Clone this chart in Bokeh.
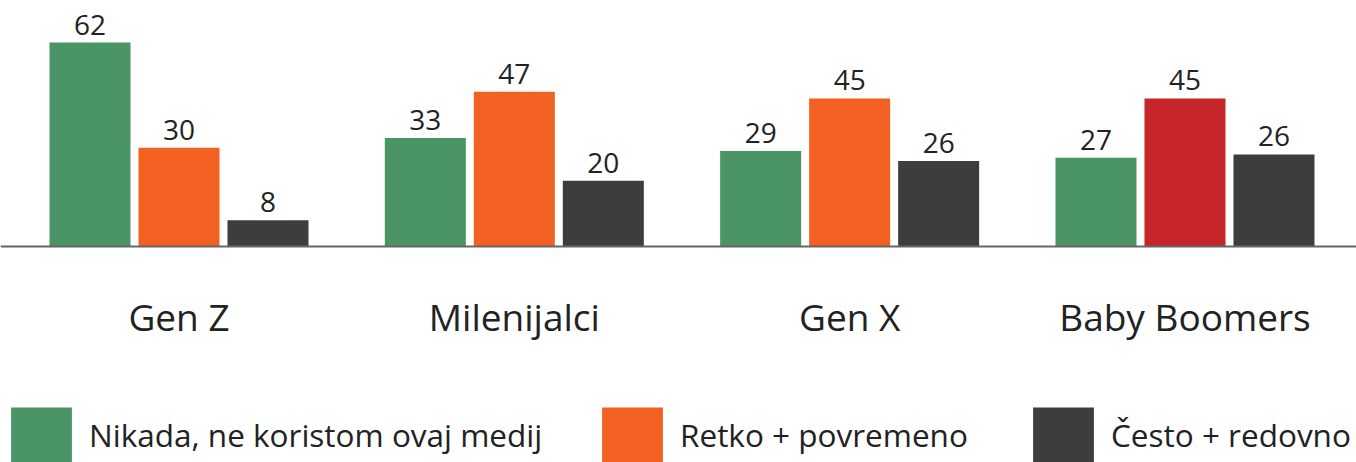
from bokeh.plotting import figure
from bokeh.models import ColumnDataSource, Range1d, Legend, LegendItem, Span
from bokeh.transform import dodge
from bokeh.core.properties import value
from bokeh.embed import file_html
from bokeh.resources import INLINE

# ---- data ----
groups = ["Gen Z", "Milenijalci", "Gen X", "Baby Boomers"]
series_names = ["Nikada, ne koristom ovaj medij", "Retko + povremeno", "Često + redovno"]
nikada = [62, 33, 29, 27]
retko = [30, 47, 45, 45]
cesto = [8, 20, 26, 28]                 # bar heights as drawn in the reference
cesto_labels = ["8", "20", "26", "26"]  # values printed above the bars

# ---- style ----
GREEN = "#4A9466"
ORANGE = "#F26122"
RED = "#C6262A"
DARK = "#3D3D3D"
TEXT = "#222222"
FONT = "Open Sans"
retko_colors = [ORANGE, ORANGE, ORANGE, RED]

idx = list(range(len(groups)))
src = ColumnDataSource(dict(
    x=idx,
    base=[0] * len(groups),
    group=groups,
    nikada=nikada, retko=retko, cesto=cesto,
    nikada_lbl=[str(v) for v in nikada],
    retko_lbl=[str(v) for v in retko],
    cesto_lbl=cesto_labels,
    retko_color=retko_colors,
))

p = figure(width=1356, height=462, output_backend="svg", toolbar_location=None,
           x_range=Range1d(-0.5323, 3.5115), y_range=Range1d(-65.65, 74.77),
           x_axis_location=None, y_axis_location=None,
           min_border_left=0, min_border_right=0, min_border_top=0,
           min_border_bottom=0)

OFF = 0.2654
W = 0.2416
specs = [("nikada", -OFF, GREEN), ("retko", 0.0, "retko_color"), ("cesto", OFF, DARK)]
renderers = []
for col, off, color in specs:
    r = p.vbar(x=dodge("x", off, range=p.x_range), top=col, bottom=0, width=W,
               source=src, fill_color=color, line_color=None)
    renderers.append(r)
    p.text(x=dodge("x", off, range=p.x_range), y=col, text=col + "_lbl", source=src,
           text_align="center", text_baseline="alphabetic", y_offset=-18,
           text_font=value(FONT), text_font_size="28px", text_color=TEXT)

# baseline
p.add_layout(Span(location=0, dimension="width", line_color="#666666", line_width=2))

# category labels under the baseline
p.text(x="x", y="base", text="group", source=src, text_align="center",
       text_baseline="middle", y_offset=70,
       text_font=value(FONT), text_font_size="37px", text_color=TEXT)

p.xgrid.visible = False
p.ygrid.visible = False
p.outline_line_color = None

legend_x = [3, 594, 1025]
for r, name, vx in zip(renderers, series_names, legend_x):
    leg = Legend(items=[LegendItem(label=name, renderers=[r], index=0)],
                 location=(vx, -7), orientation="horizontal",
                 glyph_width=76, glyph_height=69, label_standoff=10,
                 label_height=69, padding=0, margin=0, spacing=0,
                 border_line_color=None, background_fill_alpha=0,
                 label_text_font=FONT, label_text_font_size="31.5px",
                 label_text_color=TEXT)
    p.add_layout(leg, "center")

open("out.html", "w").write(file_html(p, INLINE))
